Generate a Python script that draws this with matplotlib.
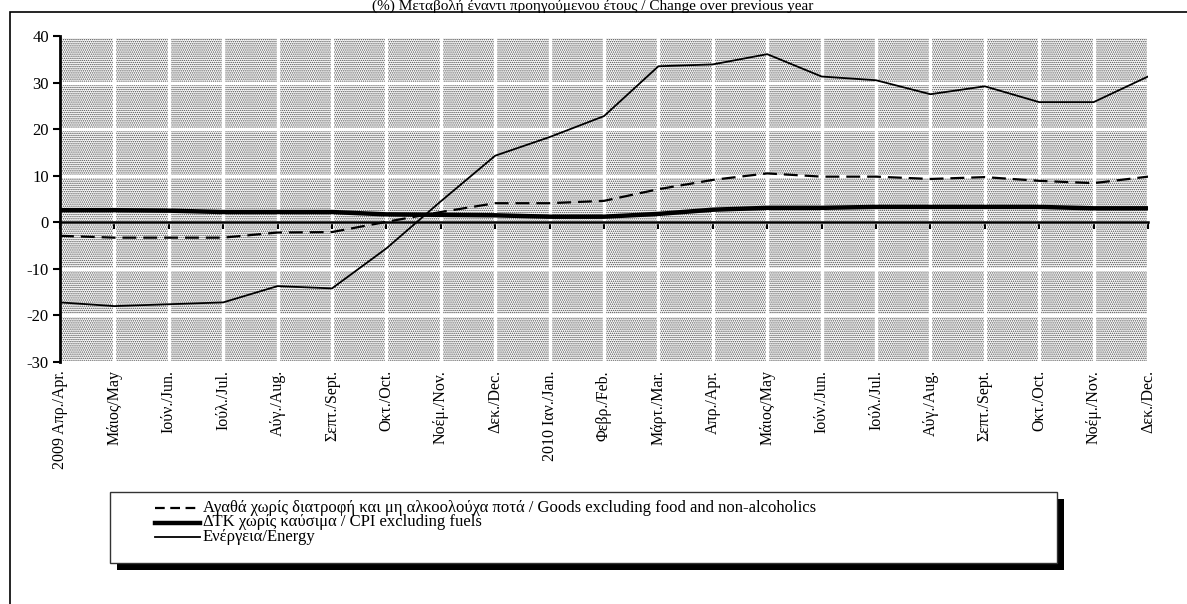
import matplotlib
matplotlib.use("Agg")
import matplotlib.pyplot as plt
from matplotlib.lines import Line2D
from matplotlib.patches import Rectangle

plt.rcParams["font.family"] = ["Liberation Serif", "DejaVu Serif"]
plt.rcParams["axes.unicode_minus"] = False
plt.rcParams["lines.scale_dashes"] = False
plt.rcParams["hatch.linewidth"] = 0.7

# ── Data ─────────────────────────────────────────────────────────────────────
MONTHS = [
    "2009 Απρ./Apr.", "Μάιος/May", "Ιούν./Jun.", "Ιούλ./Jul.", "Αύγ./Aug.",
    "Σεπτ./Sept.", "Οκτ./Oct.", "Νοέμ./Nov.", "Δεκ./Dec.", "2010 Ιαν./Jan.",
    "Φεβρ./Feb.", "Μάρτ./Mar.", "Απρ./Apr.", "Μάιος/May", "Ιούν./Jun.",
    "Ιούλ./Jul.", "Αύγ./Aug.", "Σεπτ./Sept.", "Οκτ./Oct.", "Νοέμ./Nov.",
    "Δεκ./Dec.",
]
GOODS = [-2.9, -3.3, -3.3, -3.3, -2.2, -2.1, 0.1, 2.2, 4.1, 4.1, 4.6,
         7.1, 9.1, 10.5, 9.8, 9.8, 9.3, 9.7, 8.9, 8.4, 9.8]
CORE = [2.6, 2.6, 2.5, 2.2, 2.2, 2.2, 1.7, 1.6, 1.5, 1.2, 1.2,
        1.8, 2.7, 3.1, 3.1, 3.3, 3.3, 3.3, 3.3, 3.0, 3.0]
ENERGY = [-17.2, -18.0, -17.6, -17.2, -13.7, -14.2, -5.6, 4.5, 14.3, 18.3,
          22.8, 33.5, 33.9, 36.1, 31.3, 30.5, 27.5, 29.2, 25.8, 25.8, 31.3]

LEGEND_LABELS = [
    "Αγαθά χωρίς διατροφή και μη αλκοολούχα ποτά / Goods excluding food and non-alcoholics",
    "ΔΤΚ χωρίς καύσιμα / CPI excluding fuels",
    "Ενέργεια/Energy",
]
TITLE = "(%) Μεταβολή έναντι προηγούμενου έτους / Change over previous year"

# ── Figure ───────────────────────────────────────────────────────────────────
W, H = 1187, 604
fig = plt.figure(figsize=(W / 100, H / 100), dpi=100, facecolor="white")


def fx(x):
    return x / W


def fy(y):
    return 1 - y / H


# outer frame, open to the right and bottom of the image
fig.add_artist(Rectangle((fx(10), -0.2), 1.2, fy(12) + 0.2, transform=fig.transFigure,
                         fill=False, edgecolor="black", linewidth=1.2))
fig.text(fx(593), fy(9.5), TITLE, ha="center", va="baseline", fontsize=11)

ax = fig.add_axes([fx(60), fy(362), fx(1088), 326 / H])
ax.set_facecolor("white")
ax.add_patch(Rectangle((0, 0), 1, 1, transform=ax.transAxes, facecolor="white",
                       edgecolor="#4a4a4a", hatch="........", linewidth=0, zorder=0))

x = list(range(len(MONTHS)))
ax.plot(x, GOODS, color="black", linewidth=1.6, dashes=(10, 5), zorder=3)
ax.plot(x, CORE, color="black", linewidth=3.2, zorder=3)
ax.plot(x, ENERGY, color="black", linewidth=1.3, zorder=3)

ax.set_xlim(0, len(MONTHS) - 1)
ax.set_ylim(-30, 40)
ax.set_yticks(range(-30, 41, 10))
ax.set_xticks(x)
ax.set_axisbelow(True)
ax.grid(color="white", linewidth=2.4)

for side in ("top", "right"):
    ax.spines[side].set_visible(False)
ax.spines["left"].set_linewidth(2)
ax.spines["bottom"].set_position(("data", 0))
ax.spines["bottom"].set_linewidth(1.8)
ax.tick_params(axis="y", direction="out", length=5, width=1.5, labelsize=12, pad=3)
ax.tick_params(axis="x", direction="out", length=5, width=1.5, labelbottom=False)

sec = ax.secondary_xaxis("bottom")
sec.set_xticks(x, MONTHS, rotation=90, fontsize=11.5)
sec.tick_params(length=0, pad=6)
sec.spines["bottom"].set_visible(False)

# ── Legend box with solid drop shadow ───────────────────────────────────────
fig.add_artist(Rectangle((fx(117), fy(570)), fx(947), 71 / H, transform=fig.transFigure,
                         facecolor="black", edgecolor="none", zorder=4))
fig.add_artist(Rectangle((fx(110), fy(563)), fx(947), 71 / H, transform=fig.transFigure,
                         facecolor="white", edgecolor="#333333", linewidth=1, zorder=5))
styles = [dict(linewidth=1.6, dashes=(7, 4)), dict(linewidth=3.2), dict(linewidth=1.3)]
for i, (label, st) in enumerate(zip(LEGEND_LABELS, styles)):
    yy = fy(508 + 14.5 * i)
    fig.add_artist(Line2D([fx(155), fx(200)], [yy, yy], transform=fig.transFigure,
                          color="black", zorder=6, **st))
    fig.text(fx(203), yy, label, va="center", ha="left", fontsize=12, zorder=6)

fig.savefig("out.png", dpi=100)
